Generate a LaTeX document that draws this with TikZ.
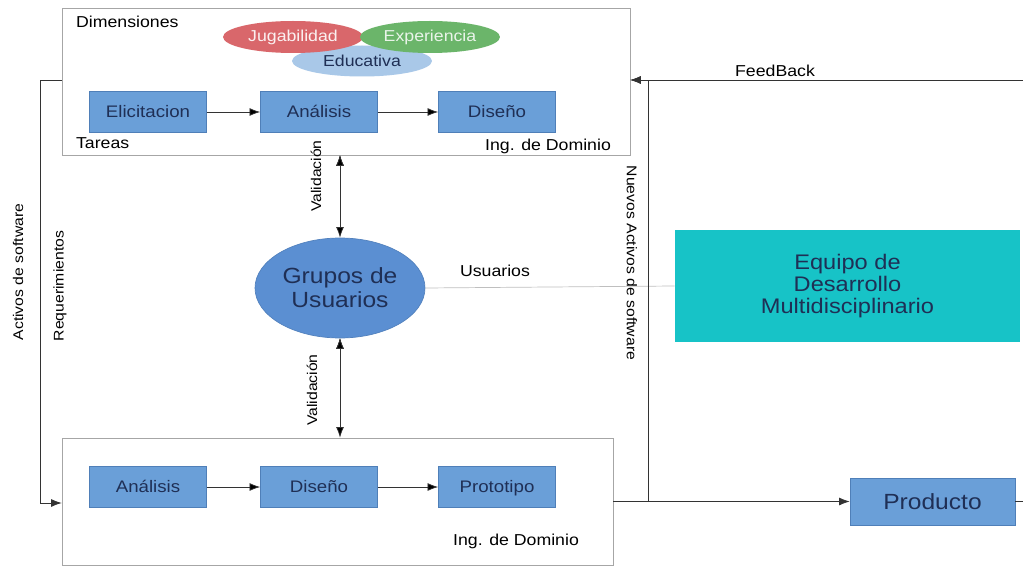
\documentclass[tikz,border=0pt]{standalone}
\usepackage{fontspec}
\setmainfont[FakeStretch=1.12]{Liberation Sans}
\usetikzlibrary{shapes.geometric, arrows.meta}

\definecolor{tareaazul}{HTML}{6A9FD8}
\definecolor{tareaborde}{HTML}{4F7FB8}
\definecolor{grupoazul}{HTML}{5B8FD2}
\definecolor{equipocian}{HTML}{17C3C7}
\definecolor{dimrojo}{HTML}{D9676B}
\definecolor{dimverde}{HTML}{6BB56A}
\definecolor{dimceleste}{HTML}{A9C8E8}
\definecolor{textoazul}{HTML}{1F2F55}

\tikzset{
  tarea/.style={draw=tareaborde, fill=tareaazul, minimum width=2.34cm, minimum height=0.82cm,
    text=textoazul, font=\fontsize{9.5}{11}\selectfont, text height=1.6ex, text depth=0.4ex},
  dominio/.style={draw=black!35, fill=white},
  dimension/.style={ellipse, minimum width=2.8cm, minimum height=0.64cm, inner sep=0pt,
    font=\fontsize{9}{10}\selectfont},
  etiqueta/.style={font=\fontsize{9}{10}\selectfont, inner sep=1pt},
  vertical/.style={font=\fontsize{8}{9}\selectfont, inner sep=1pt},
  flecha/.style={-{Latex[length=6pt, width=4.5pt]}, draw=black!80},
  doble/.style={{Latex[length=6pt, width=4.5pt]}-{Latex[length=6pt, width=4.5pt]}, draw=black!80},
}

\begin{document}
\begin{tikzpicture}[x=0.02cm, y=-0.02cm]
			\useasboundingbox (0,0) rectangle (1023,567);
			% ingenieria de dominio (arriba y abajo)
			\node[dominio, minimum width=11.36cm, minimum height=2.94cm] (dom1) at (346,81.5) {};
			\node[dominio, minimum width=11.02cm, minimum height=2.54cm] (dom2) at (337.5,501.5) {};
			% dimensiones
			\node[anchor=west, etiqueta] (dim) at (74,22) {Dimensiones};
			\node[dimension, fill=dimceleste, text=textoazul, minimum height=0.62cm] (edu) at (362,61) {Educativa};
			\node[dimension, fill=dimrojo, text=white!90!dimrojo] (jug) at (293,37) {Jugabilidad};
			\node[dimension, fill=dimverde, text=white!85!dimverde] (exp) at (430,37) {Experiencia};
			% tareas
			\node[tarea] (eli) at (148,112) {Elicitacion};
			\node[tarea] (ana1) at (319,112) {Análisis};
			\node[tarea] (dis1) at (497,112) {Diseño};
			\node[anchor=west, etiqueta] (tar) at (74,143) {Tareas};
			\node[anchor=east, etiqueta] (ing1) at (613,146) {Ing. de Dominio};
			\path[flecha] (eli) edge (ana1);
			\path[flecha] (ana1) edge (dis1);
			\node[tarea] (ana2) at (148,487) {Análisis};
			\node[tarea] (dis2) at (319,487) {Diseño};
			\node[tarea] (pro) at (497,487) {Prototipo};
			\node[anchor=east, etiqueta] (ing2) at (581,541) {Ing. de Dominio};
			\path[flecha] (ana2) edge (dis2);
			\path[flecha] (dis2) edge (pro);
			% usuarios y equipo
			\node[ellipse, fill=grupoazul, draw=grupoazul!90!black, minimum width=3.4cm, minimum height=2cm, inner sep=0pt,
				text=textoazul, align=center, font=\fontsize{12.5}{13.5}\selectfont] (grp) at (340,288) {Grupos de\\Usuarios};
			\node[fill=equipocian, minimum width=6.9cm, minimum height=2.24cm, align=center,
				text=textoazul, font=\fontsize{12}{12.3}\selectfont] (eqp) at (847.5,286) {Equipo de\\Desarrollo\\Multidisciplinario};
			\node[draw=tareaborde, fill=tareaazul, minimum width=3.3cm, minimum height=0.94cm,
				text=textoazul, font=\fontsize{12.5}{13}\selectfont] (prd) at (932.5,501.5) {Producto};
			\path[doble] (dom1.south -| grp) edge (grp.north);
			\path[doble] (grp.south) edge (dom2.north -| grp);
			\node[vertical, rotate=90] (val1) at (316,176) {Validación};
			\node[vertical, rotate=90] (val2) at (312,390) {Validación};
			\draw[draw=black!25] (grp.east) -- (eqp.west);
			\node[etiqueta] (usu) at (495,271) {Usuarios};
			% lazos laterales
			\coordinate (tl) at (40,80);
			\coordinate (bl) at (40,503);
			\coordinate (tr) at (648,80);
			\coordinate (br) at (648,501.5);
			\coordinate (fb) at (1023,80);
			\coordinate (fin) at (1023,501.5);
			\draw[flecha] (dom1.west |- tl) -- (tl) -- (bl) -- (dom2.west |- bl);
			\draw[flecha] (dom2.east |- br) -- (prd.west);
			\draw[flecha] (br) -- (tr) -- (dom1.east |- tr);
			\draw[flecha] (fb) -- (dom1.east |- fb);
			\draw[draw=black!80] (prd.east) -- (fin);
			\node[etiqueta] (feed) at (775,71) {FeedBack};
			\node[vertical, rotate=90] (act) at (18,272) {Activos de software};
			\node[vertical, rotate=90] (req) at (60,286) {Requerimientos};
			\node[vertical, rotate=-90] (nue) at (632,263) {Nuevos Activos de software};
		\end{tikzpicture}
\end{document}
